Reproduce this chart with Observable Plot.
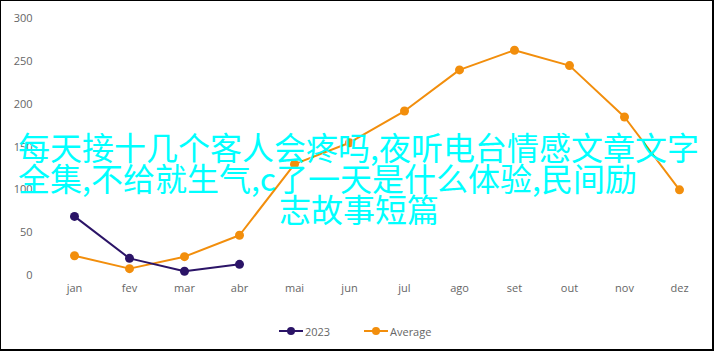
<!DOCTYPE html>
<html><head><meta charset="utf-8">
<script src="https://cdn.jsdelivr.net/npm/d3@7"></script>
<script src="https://cdn.jsdelivr.net/npm/@observablehq/plot@0.6"></script>
<style>
body{margin:0;background:#fff;}
#wrap{position:relative;width:714px;height:351px;overflow:hidden;font-family:"Open Sans",sans-serif;background:#fff;}
#chart{position:absolute;left:0;top:0;}
#frame{position:absolute;left:0;top:0;width:714px;height:351px;box-sizing:border-box;border:1px solid #000;border-right-width:2px;border-bottom-width:2px;pointer-events:none;}
#legend{position:absolute;left:0;top:322px;width:714px;height:18px;}
.li{position:absolute;top:0;height:18px;display:flex;align-items:center;font-size:11px;color:#666;}
.li svg{margin-right:2px;}
.ov{position:absolute;font-family:"Noto Sans CJK SC",sans-serif;font-size:32px;line-height:31px;color:#00ffff;white-space:nowrap;}
</style></head>
<body>
<div id="wrap">
  <div id="chart"></div>
  <div id="legend"></div>
  <div id="ovl"></div>
  <div id="frame"></div>
</div>
<script>
const months = ["jan","fev","mar","abr","mai","jun","jul","ago","set","out","nov","dez"];
const values2023 = [69, 20, 5, 13];
const valuesAverage = [23, 8, 22, 47, 130, 155, 192, 240, 263, 245, 185, 100];
const yTicks = [0, 50, 100, 150, 200, 250, 300];
const seriesNames = ["2023", "Average"];
const seriesColors = ["#2b1467", "#f28e0c"];
const overlayLines = [
  "每天接十几个客人会疼吗,夜听电台情感文章文字",
  "全集,不给就生气,c了一天是什么体验,民间励",
  "志故事短篇"
];

const d2023 = values2023.map((v, i) => ({month: months[i], value: v}));
const dAvg = valuesAverage.map((v, i) => ({month: months[i], value: v}));

const chart = Plot.plot({
  width: 714,
  height: 305,
  marginTop: 18,
  marginBottom: 30,
  marginLeft: 42,
  marginRight: 3,
  style: {fontFamily: "'Open Sans', sans-serif", fontSize: "11px", color: "#666", background: "transparent"},
  x: {type: "point", domain: months, range: [70, 683], padding: 0, label: null},
  y: {domain: [0, 300], label: null},
  marks: [
    Plot.gridY(yTicks.filter(d => d > 0), {stroke: "#d6d6d6", strokeOpacity: 1, strokeDasharray: "4,3", x1: 42, x2: 711}),
    Plot.ruleY([0], {stroke: "#d6d6d6", strokeOpacity: 1, x1: 42, x2: 711}),
    Plot.axisY(yTicks, {tickSize: 0, tickPadding: 10, fill: "#666", fontSize: 11, label: null}),
    Plot.axisX({tickSize: 0, tickPadding: 9, fill: "#666", fontSize: 11, label: null}),
    Plot.line(dAvg, {x: "month", y: "value", stroke: seriesColors[1], strokeWidth: 2}),
    Plot.dot(dAvg, {x: "month", y: "value", fill: seriesColors[1], r: 4.5}),
    Plot.line(d2023, {x: "month", y: "value", stroke: seriesColors[0], strokeWidth: 2}),
    Plot.dot(d2023, {x: "month", y: "value", fill: seriesColors[0], r: 4.5})
  ]
});
document.getElementById("chart").appendChild(chart);

// legend
const legend = document.getElementById("legend");
const legendX = [279, 364];
seriesNames.forEach((name, i) => {
  const el = document.createElement("div");
  el.className = "li";
  el.style.left = legendX[i] + "px";
  el.innerHTML = `<svg width="24" height="10"><line x1="0" x2="24" y1="5" y2="5" stroke="${seriesColors[i]}" stroke-width="2"/><circle cx="12" cy="5" r="4" fill="${seriesColors[i]}"/></svg><span>${name}</span>`;
  legend.appendChild(el);
});

// overlay text
const ovl = document.getElementById("ovl");
const pos = [{left: 18, top: 131}, {left: 18, top: 162}, {center: 359, top: 193}];
overlayLines.forEach((t, i) => {
  const el = document.createElement("div");
  el.className = "ov";
  el.textContent = t;
  el.style.top = pos[i].top + "px";
  ovl.appendChild(el);
  if (pos[i].center != null) {
    el.style.left = (pos[i].center - el.offsetWidth / 2) + "px";
  } else {
    el.style.left = pos[i].left + "px";
  }
});
</script>
</body></html>
